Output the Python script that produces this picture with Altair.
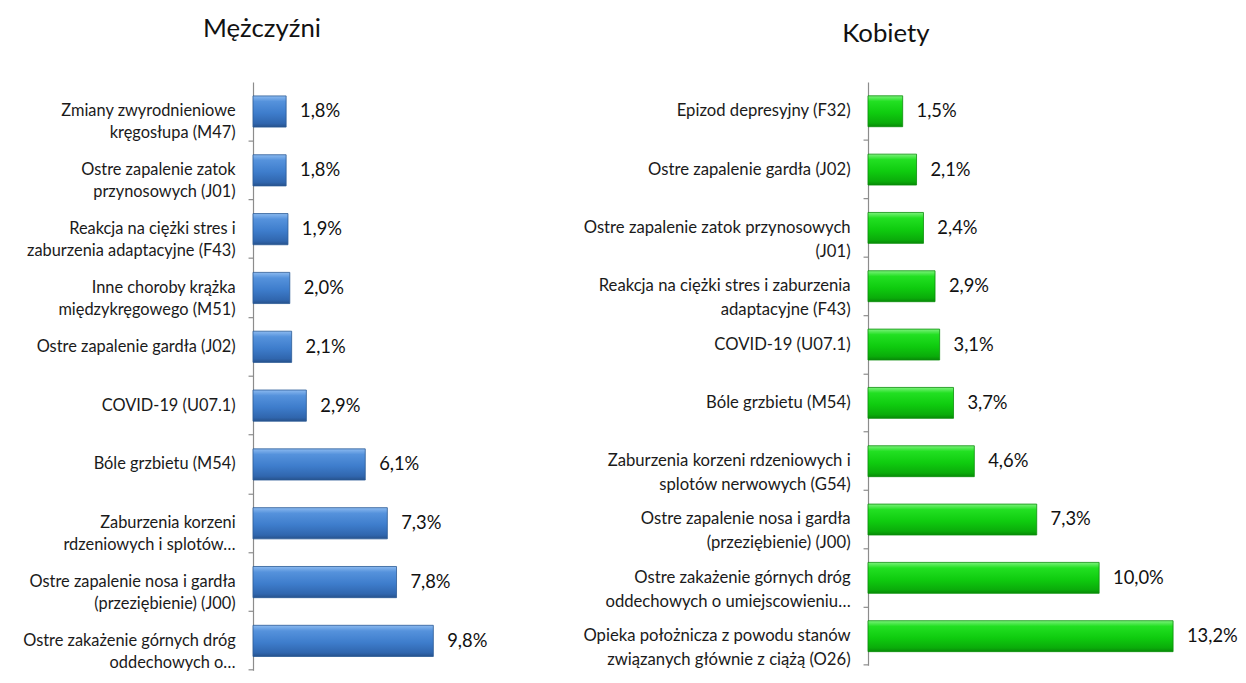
import altair as alt
import pandas as pd

FONT = "Lato"

men_labels = [
    "Zmiany zwyrodnieniowe|kręgosłupa (M47)",
    "Ostre zapalenie zatok|przynosowych (J01)",
    "Reakcja na ciężki stres i|zaburzenia adaptacyjne (F43)",
    "Inne choroby krążka|międzykręgowego (M51)",
    "Ostre zapalenie gardła (J02)",
    "COVID-19 (U07.1)",
    "Bóle grzbietu (M54)",
    "Zaburzenia korzeni|rdzeniowych i splotów…",
    "Ostre zapalenie nosa i gardła|(przeziębienie) (J00)",
    "Ostre zakażenie górnych dróg|oddechowych o…",
]
men_values = [1.8, 1.8, 1.9, 2.0, 2.1, 2.9, 6.1, 7.3, 7.8, 9.8]

women_labels = [
    "Epizod depresyjny (F32)",
    "Ostre zapalenie gardła (J02)",
    "Ostre zapalenie zatok przynosowych|(J01)",
    "Reakcja na ciężki stres i zaburzenia|adaptacyjne (F43)",
    "COVID-19 (U07.1)",
    "Bóle grzbietu (M54)",
    "Zaburzenia korzeni rdzeniowych i|splotów nerwowych (G54)",
    "Ostre zapalenie nosa i gardła|(przeziębienie) (J00)",
    "Ostre zakażenie górnych dróg|oddechowych o umiejscowieniu…",
    "Opieka położnicza z powodu stanów|związanych głównie z ciążą (O26)",
]
women_values = [1.5, 2.1, 2.4, 2.9, 3.1, 3.7, 4.6, 7.3, 10.0, 13.2]

blue_grad = alt.LinearGradient(
    gradient="linear", x1=0, x2=0, y1=0, y2=1,
    stops=[alt.GradientStop(color="#8cbaf0", offset=0),
           alt.GradientStop(color="#5592dc", offset=0.18),
           alt.GradientStop(color="#3e7dcc", offset=0.55),
           alt.GradientStop(color="#3066ae", offset=0.88),
           alt.GradientStop(color="#27528c", offset=1)])
green_grad = alt.LinearGradient(
    gradient="linear", x1=0, x2=0, y1=0, y2=1,
    stops=[alt.GradientStop(color="#7cf27c", offset=0),
           alt.GradientStop(color="#22e022", offset=0.18),
           alt.GradientStop(color="#0fcc0f", offset=0.55),
           alt.GradientStop(color="#0aac0a", offset=0.88),
           alt.GradientStop(color="#078a07", offset=1)])


def panel(labels, values, title, grad, stroke, width, xmax, height,
          lab_size, lab_lh, title_offset, title_dx):
    df = pd.DataFrame({
        "cat": labels,
        "val": values,
        "txt": [f"{v:.1f}".replace(".", ",") + "%" for v in values],
    })
    yscale = alt.Scale(paddingInner=0, paddingOuter=0)
    x = alt.X("val:Q", scale=alt.Scale(domain=[0, xmax]), axis=None)
    y_lab = alt.Y("cat:N", sort=None, title=None, scale=yscale,
                  axis=alt.Axis(orient="left", labelExpr="split(datum.label, '|')",
                                ticks=False, domain=False, labelPadding=18,
                                labelFont=FONT, labelFontSize=lab_size,
                                labelColor="#1a1a1a", labelLineHeight=lab_lh,
                                labelLimit=400, grid=False))
    y_tick = alt.Y("cat:N", sort=None, title=None, scale=yscale,
                   axis=alt.Axis(orient="left", labels=False, ticks=True,
                                 tickSize=5, bandPosition=1, domain=True,
                                 domainColor="#8c8c8c", tickColor="#8c8c8c",
                                 domainWidth=1.2, tickWidth=1.2, grid=False))
    bars = alt.Chart(df).mark_bar(
        color=grad, stroke=stroke, strokeWidth=0.8,
        height=alt.RelativeBandSize(band=0.53)
    ).encode(x=x, y=y_lab)
    text = alt.Chart(df).mark_text(
        align="left", baseline="middle", dx=14, font=FONT, fontSize=18.5,
        color="#111111"
    ).encode(x=x, y=y_tick, text="txt:N")
    return alt.layer(bars, text).resolve_axis(y="independent").properties(
        width=width, height=height,
        title=alt.TitleParams(title, font=FONT, fontSize=26, fontWeight="normal",
                              color="#111111", anchor="middle",
                              offset=title_offset, dx=title_dx),
    )


left = panel(men_labels, men_values, "Mężczyźni", blue_grad, "#2a5a95",
             230, 230 / 18.55, 593, 16.5, 22, 40, -106)
right = panel(women_labels, women_values, "Kobiety", green_grad, "#0a8f0a",
              330, 330 / 23.3, 588, 16.8, 24, 35, -147)

chart = alt.hconcat(left, right, spacing=95).properties(
    padding={"top": 6, "left": 14, "right": 0, "bottom": -3}
).configure_view(stroke=None)

chart.save("out.html", embed_options={"renderer": "svg", "actions": False})
